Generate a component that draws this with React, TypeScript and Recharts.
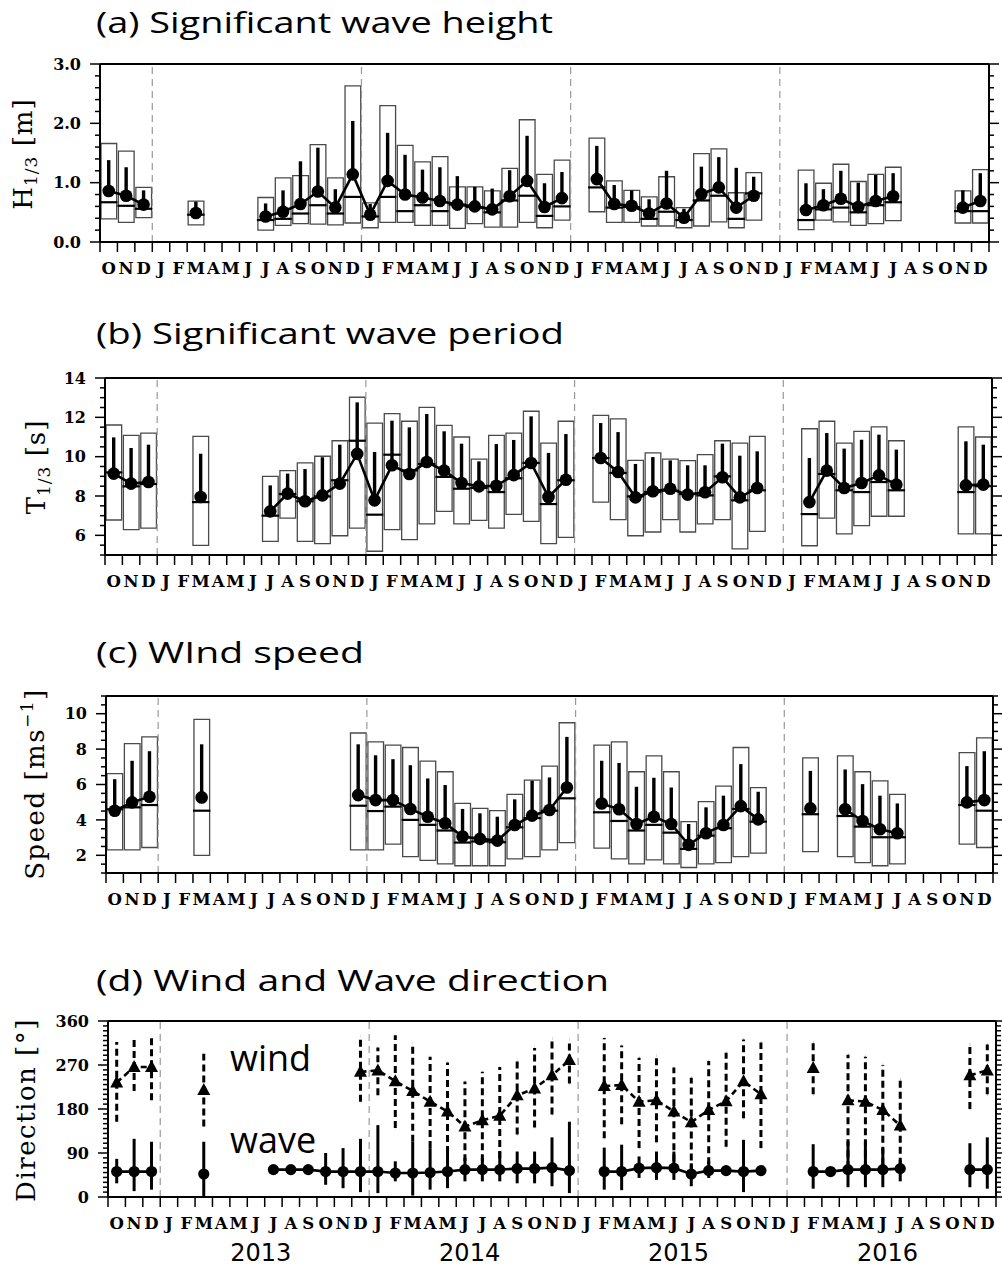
import React from "react";
import { ComposedChart, Bar, Line, XAxis, YAxis, ReferenceLine, ErrorBar, Rectangle } from "recharts";

const _ = null;

// month letters, Oct 2012 .. Dec 2016
const MONTHS = [
  "O", "N", "D",
  "J", "F", "M", "A", "M", "J", "J", "A", "S", "O", "N", "D",
  "J", "F", "M", "A", "M", "J", "J", "A", "S", "O", "N", "D",
  "J", "F", "M", "A", "M", "J", "J", "A", "S", "O", "N", "D",
  "J", "F", "M", "A", "M", "J", "J", "A", "S", "O", "N", "D",
];
const YEARS = ["2013", "2014", "2015", "2016"];
const YEAR_MID = [9, 21, 33, 45];
const YEAR_EDGES = [3, 15, 27, 39];

// (a) significant wave height [m]: box top/bottom, median, mean, mean+std
const HS_HI = [1.66, 1.53, 0.92, _, _, 0.69, _, _, _, 0.75, 1.08, 1.12, 1.64, 1.08, 2.63, 0.66, 2.30, 1.63, 1.35, 1.44, 0.93, 0.93, 0.86, 1.24, 2.06, 1.14, 1.38, _, 1.75, 1.03, 0.87, 0.76, 1.10, 0.58, 1.49, 1.57, 0.83, 1.17, _, _, 1.21, 0.99, 1.31, 1.02, 1.14, 1.26, _, _, _, 0.86, 1.22];
const HS_LO = [0.39, 0.33, 0.41, _, _, 0.29, _, _, _, 0.20, 0.28, 0.31, 0.30, 0.29, 0.32, 0.24, 0.33, 0.33, 0.28, 0.28, 0.23, 0.31, 0.25, 0.25, 0.33, 0.24, 0.37, _, 0.51, 0.33, 0.33, 0.27, 0.27, 0.24, 0.27, 0.34, 0.24, 0.37, _, _, 0.21, 0.37, 0.34, 0.28, 0.31, 0.36, _, _, _, 0.32, 0.32];
const HS_MED = [0.67, 0.61, 0.56, _, _, 0.46, _, _, _, 0.37, 0.39, 0.48, 0.62, 0.48, 0.76, 0.43, 0.76, 0.52, 0.62, 0.52, 0.63, 0.59, 0.50, 0.70, 0.78, 0.44, 0.60, _, 0.92, 0.58, 0.59, 0.39, 0.51, 0.37, 0.70, 0.78, 0.39, 0.82, _, _, 0.37, 0.55, 0.58, 0.50, 0.62, 0.67, _, _, _, 0.52, 0.52];
const HS_MEAN = [0.86, 0.78, 0.63, _, _, 0.49, _, _, _, 0.43, 0.51, 0.64, 0.85, 0.58, 1.14, 0.46, 1.03, 0.80, 0.75, 0.69, 0.63, 0.60, 0.55, 0.77, 1.03, 0.59, 0.74, _, 1.06, 0.64, 0.61, 0.48, 0.65, 0.41, 0.81, 0.92, 0.58, 0.78, _, _, 0.54, 0.62, 0.73, 0.59, 0.69, 0.77, _, _, _, 0.58, 0.69];
const HS_UP = [1.38, 1.26, 0.87, _, _, 0.68, _, _, _, 0.65, 0.87, 1.36, 1.59, 0.89, 2.04, 0.64, 1.84, 1.47, 1.22, 1.26, 1.11, 0.93, 0.90, 1.21, 1.79, 0.99, 1.18, _, 1.62, 0.96, 0.87, 0.72, 1.20, 0.56, 1.27, 1.43, 1.25, 1.10, _, _, 0.99, 0.89, 1.20, 1.00, 1.13, 1.16, _, _, _, 0.87, 1.16];

// (b) significant wave period [s]
const TP_HI = [11.61, 11.08, 11.2, _, _, 11.03, _, _, _, 9.0, 9.29, 9.68, 10.02, 10.81, 13.02, 11.71, 12.19, 11.8, 12.51, 11.59, 11.0, 9.88, 11.08, 11.2, 12.31, 10.69, 11.8, _, 12.1, 11.92, 9.81, 10.19, 9.88, 9.80, 10.10, 10.81, 10.69, 11.03, _, _, 11.42, 11.8, 10.69, 11.29, 11.51, 10.81, _, _, _, 11.51, 11.0];
const TP_LO = [6.78, 6.29, 6.37, _, _, 5.49, _, _, _, 5.69, 6.88, 5.69, 5.58, 5.98, 6.37, 5.19, 6.29, 5.78, 6.58, 7.22, 6.58, 6.76, 6.37, 7.07, 6.71, 5.58, 5.9, _, 7.69, 6.80, 5.98, 6.17, 6.80, 6.17, 6.58, 6.80, 5.31, 6.20, _, _, 5.47, 6.88, 6.07, 6.49, 6.97, 6.97, _, _, _, 6.07, 6.07];
const TP_MED = [9.20, 8.49, 8.61, _, _, 7.69, _, _, _, 7.0, 8.10, 7.73, 7.98, 8.80, 10.81, 7.05, 10.10, 9.3, 9.63, 8.97, 8.37, 8.41, 8.2, 8.9, 9.68, 7.59, 8.80, _, 9.93, 9.17, 7.98, 8.20, 8.27, 8.10, 8.03, 9.0, 7.78, 8.29, _, _, 7.08, 9.12, 8.29, 8.20, 8.71, 8.29, _, _, _, 8.20, 8.5];
const TP_MEAN = [9.14, 8.63, 8.71, _, _, 7.95, _, _, _, 7.22, 8.12, 7.73, 8.03, 8.63, 10.14, 7.78, 9.56, 9.12, 9.73, 9.29, 8.66, 8.49, 8.52, 9.06, 9.68, 7.95, 8.83, _, 9.93, 9.22, 7.93, 8.24, 8.37, 8.07, 8.19, 8.95, 7.93, 8.41, _, _, 7.69, 9.29, 8.41, 8.66, 9.05, 8.58, _, _, _, 8.54, 8.58];
const TP_UP = [10.98, 10.44, 10.61, _, _, 10.15, _, _, _, 8.54, 9.14, 9.37, 9.97, 10.61, 12.76, 10.24, 11.83, 11.49, 12.17, 11.29, 10.66, 9.76, 10.64, 10.85, 12.05, 10.19, 11.15, _, 11.71, 11.25, 9.63, 9.98, 9.81, 9.56, 9.56, 10.66, 10.05, 10.27, _, _, 9.93, 11.2, 10.41, 10.86, 11.12, 10.36, _, _, _, 10.78, 10.61];

// (c) wind speed [m/s]
const WS_HI = [6.62, 8.31, 8.69, _, _, 9.68, _, _, _, _, _, _, _, _, 8.91, 8.41, 8.22, 8.09, 7.32, 6.72, 4.93, 4.65, 4.52, 5.44, 6.25, 7.04, 9.49, _, 8.22, 8.41, 6.72, 7.62, 6.72, 3.90, 5.03, 5.91, 8.09, 5.82, _, _, 7.50, _, 7.62, 6.72, 6.21, 5.44, _, _, _, 7.80, 8.63];
const WS_LO = [2.31, 2.31, 2.44, _, _, 2.0, _, _, _, _, _, _, _, _, 2.31, 2.31, 2.63, 1.93, 1.71, 1.52, 1.41, 1.41, 1.41, 1.80, 1.93, 2.31, 2.72, _, 2.40, 1.80, 1.52, 1.74, 1.52, 1.31, 1.52, 1.59, 1.93, 2.12, _, _, 2.21, _, 1.93, 1.59, 1.41, 1.52, _, _, _, 2.63, 2.44];
const WS_MED = [4.6, 4.71, 4.84, _, _, 4.52, _, _, _, _, _, _, _, _, 4.80, 4.50, 4.75, 4.0, 3.72, 3.40, 2.72, 2.78, 2.74, 3.58, 4.1, 4.52, 5.22, _, 4.43, 3.94, 3.40, 3.72, 3.28, 2.36, 3.11, 3.53, 4.62, 3.90, _, _, 4.32, _, 4.22, 3.62, 3.02, 3.02, _, _, _, 4.84, 4.52];
const WS_MEAN = [4.52, 4.99, 5.31, _, _, 5.27, _, _, _, _, _, _, _, _, 5.40, 5.12, 5.12, 4.62, 4.18, 3.81, 3.06, 2.93, 2.83, 3.71, 4.24, 4.56, 5.83, _, 4.93, 4.60, 3.77, 4.18, 3.77, 2.59, 3.25, 3.71, 4.78, 4.03, _, _, 4.65, _, 4.60, 3.94, 3.47, 3.25, _, _, _, 4.99, 5.12];
const WS_UP = [6.30, 7.34, 7.88, _, _, 8.27, _, _, _, _, _, _, _, _, 8.27, 7.65, 7.43, 7.09, 6.34, 5.97, 4.62, 4.37, 4.18, 5.16, 6.21, 6.40, 8.69, _, 7.34, 7.22, 5.87, 6.38, 5.83, 3.77, 4.71, 5.37, 7.15, 5.59, _, _, 6.77, _, 6.85, 6.02, 5.37, 4.93, _, _, _, 7.04, 7.88];

// (d) wind and wave direction [deg]: mean, lower, upper
const WIND = [234, 266, 266, _, _, 219, _, _, _, _, _, _, _, _, 256, 259, 237, 217, 195, 175, 144, 157, 166, 208, 222, 249, 280, _, 227, 229, 195, 198, 175, 153, 178, 196, 237, 210, _, _, 264, _, 198, 195, 178, 146, _, _, _, 249, 259];
const WIND_LO = [154, 217, 198, _, _, 144, _, _, _, _, _, _, _, _, 195, 208, 141, 113, 100, 90, 73, 73, 80, 128, 142, 169, 232, _, 120, 149, 100, 112, 73, 52, 67, 103, 161, 100, _, _, 210, _, 59, 59, 66, 66, _, _, _, 180, 210];
const WIND_HI = [317, 322, 332, _, _, 293, _, _, _, _, _, _, _, _, 329, 306, 331, 314, 287, 275, 236, 256, 266, 280, 305, 324, 322, _, 325, 310, 285, 289, 265, 244, 278, 295, 322, 316, _, _, 315, _, 291, 287, 270, 241, _, _, _, 312, 312];
const WAVE = [52, 52, 52, _, _, 47, _, _, _, 56, 56, 56, 52, 52, 52, 52, 49, 49, 50, 52, 56, 56, 56, 58, 58, 60, 54, _, 52, 52, 59, 60, 59, 47, 54, 54, 52, 54, _, _, 52, 52, 56, 56, 56, 58, _, _, _, 56, 56];
const WAVE_LO = [28, 12, 15, _, _, 1, _, _, _, 50, 50, 50, 25, 18, 10, 8, 32, 3, 15, 18, 32, 32, 32, 28, 28, 22, 8, _, 15, 14, 39, 35, 35, 22, 39, 48, 10, 48, _, _, 17, 46, 20, 20, 20, 32, _, _, _, 20, 17];
const WAVE_HI = [78, 119, 113, _, _, 113, _, _, _, 62, 62, 62, 90, 100, 119, 147, 73, 113, 100, 90, 80, 80, 93, 93, 93, 122, 154, _, 101, 107, 83, 93, 93, 69, 73, 60, 117, 60, _, _, 108, 58, 113, 113, 100, 76, _, _, _, 110, 122];

// y tick labels per panel
const A_MAJOR = [0, 1, 2, 3];
const B_MAJOR = [6, 8, 10, 12, 14];
const C_MAJOR = [2, 4, 6, 8, 10];
const D_MAJOR = [0, 90, 180, 270, 360];

const TITLES = [
  { text: "(a) Significant wave height", y: 33, w: 457 },
  { text: "(b) Significant wave period", y: 344, w: 468 },
  { text: "(c) WInd speed", y: 663, w: 268 },
  { text: "(d) Wind and Wave direction", y: 991, w: 513 },
];

// plot frames in page pixels
const FRAME_A = { L: 100, R: 989, T: 64, B: 242 };
const FRAME_B = { L: 105, R: 992, T: 378, B: 555 };
const FRAME_C = { L: 106, R: 993, T: 696, B: 873 };
const FRAME_D = { L: 108, R: 996, T: 1021, B: 1197 };
const TOP_PAD = 15;
const BOTTOM_PAD = 70;
const RIGHT_W = 14;

const EDGE_TICKS = Array.from({ length: 52 }, (v, i) => i);
const BOTTOM_TICKS = Array.from({ length: 103 }, (v, i) => i / 2);
const stepTicks = (lo: number, hi: number, step: number) => {
  const out: number[] = [];
  for (let k = 0; lo + k * step <= hi + 1e-9; k++) out.push(Math.round((lo + k * step) * 1000) / 1000);
  return out;
};

const AXIS_LINE = { stroke: "#000", strokeWidth: 2 };
const TICK_LINE = { stroke: "#000", strokeWidth: 1.5 };
const SERIF = "DejaVu Serif";

const boxRows = (hi, lo, med, mean, up) =>
  MONTHS.map((m, i) => ({
    cat: i,
    x: i + 0.5,
    box: hi[i] == null ? null : [lo[i], hi[i]],
    med: med[i],
    mean: mean[i],
    err: mean[i] == null ? null : [0, up[i] - mean[i]],
  }));

const dirRows = MONTHS.map((m, i) => ({
  cat: i,
  x: i + 0.5,
  wind: WIND[i],
  windErr: WIND[i] == null ? null : [WIND[i] - WIND_LO[i], WIND_HI[i] - WIND[i]],
  wave: WAVE[i],
  waveErr: WAVE[i] == null ? null : [WAVE[i] - WAVE_LO[i], WAVE_HI[i] - WAVE[i]],
}));

const bad = (p) => p.value == null || p.cy == null || Number.isNaN(p.cy);

function monthTick(p, showYears) {
  const v = p.payload.value;
  if (Number.isInteger(v)) {
    const yi = showYears ? YEAR_MID.indexOf(v) : -1;
    return (
      <g>
        <line x1={p.x} x2={p.x} y1={p.y} y2={p.y + 10} stroke="#000" strokeWidth={1.5} />
        {yi >= 0 && (
          <text x={p.x - 4} y={p.y + 64} textAnchor="middle" fontFamily="DejaVu Sans" fontSize={24} fill="#000">
            {YEARS[yi]}
          </text>
        )}
      </g>
    );
  }
  return (
    <text x={p.x} y={p.y + 32} textAnchor="middle" fontFamily={SERIF} fontWeight="bold" fontSize={16.5} fill="#000">
      {MONTHS[Math.floor(v)]}
    </text>
  );
}

function yTick(p, majors, fmt, side) {
  const v = p.payload.value;
  const major = majors.some((m) => Math.abs(m - v) < 1e-6);
  const len = major ? 10 : 5;
  return (
    <g>
      <line x1={p.x} x2={p.x + side * len} y1={p.y} y2={p.y} stroke="#000" strokeWidth={1.5} />
      {major && side < 0 && (
        <text x={p.x - 19} y={p.y} dy="0.36em" textAnchor="end" fontFamily={SERIF} fontWeight="bold" fontSize={16} fill="#000">
          {fmt(v)}
        </text>
      )}
    </g>
  );
}

function frameAxes(f, domain, yTicks, majors, fmt, showYears) {
  return [
    <XAxis
      key="num" xAxisId="num" dataKey="x" type="number" domain={[0, 51]} allowDataOverflow
      ticks={BOTTOM_TICKS} interval={0} height={BOTTOM_PAD} tickLine={false} tickSize={0} tickMargin={0}
      axisLine={AXIS_LINE} tick={(p) => monthTick(p, showYears)}
    />,
    <XAxis key="cat" xAxisId="cat" dataKey="cat" type="category" hide height={0} />,
    <XAxis
      key="top" xAxisId="top" orientation="top" dataKey="x" type="number" domain={[0, 51]} allowDataOverflow
      ticks={EDGE_TICKS} interval={0} height={12} tickSize={10} tick={false} tickLine={TICK_LINE} axisLine={AXIS_LINE}
    />,
    <YAxis
      key="l" yAxisId="l" type="number" domain={domain} allowDataOverflow ticks={yTicks} interval={0}
      width={f.L} tickLine={false} tickSize={0} tickMargin={0} axisLine={AXIS_LINE}
      tick={(p) => yTick(p, majors, fmt, -1)}
    />,
    <YAxis
      key="r" yAxisId="r" orientation="right" type="number" domain={domain} allowDataOverflow ticks={yTicks} interval={0}
      width={RIGHT_W} tickLine={false} tickSize={0} tickMargin={0} axisLine={AXIS_LINE}
      tick={(p) => yTick(p, majors, fmt, 1)}
    />,
    ...YEAR_EDGES.map((e) => (
      <ReferenceLine key={"yr" + e} xAxisId="num" yAxisId="l" x={e} stroke="#999" strokeDasharray="7 5" strokeWidth={1.2} />
    )),
  ];
}

function chartBox(f) {
  return {
    style: { position: "absolute" as const, left: 0, top: f.T - TOP_PAD },
    height: TOP_PAD + (f.B - f.T) + BOTTOM_PAD,
    margin: { top: TOP_PAD - 12, right: 1002 - f.R - RIGHT_W, bottom: 0, left: 0 },
  };
}

function BoxPanel({ f, rows, domain, yTicks, majors, fmt }) {
  const bw = (f.R - f.L) / 51;
  const c = chartBox(f);
  const medDot = (p) =>
    bad(p) ? <g key={"m" + p.index} /> : (
      <line key={"m" + p.index} x1={p.cx - bw / 2} x2={p.cx + bw / 2} y1={p.cy} y2={p.cy} stroke="#000" strokeWidth={2.2} />
    );
  const meanDot = (p) =>
    bad(p) ? <g key={"d" + p.index} /> : <circle key={"d" + p.index} cx={p.cx} cy={p.cy} r={6.3} fill="#000" />;
  return (
    <div style={c.style}>
      <ComposedChart width={1002} height={c.height} data={rows} margin={c.margin} barCategoryGap={0} barGap={0}>
        {frameAxes(f, domain, yTicks, majors, fmt, false)}
        <Bar
          xAxisId="cat" yAxisId="l" dataKey="box" barSize={bw} fill="none" stroke="#4a4a4a" strokeWidth={1.3}
          isAnimationActive={false}
          shape={(p) => (p.payload && p.payload.box ? <Rectangle {...p} fill="none" /> : <g />)}
        />
        <Line xAxisId="num" yAxisId="l" dataKey="med" stroke="none" dot={medDot} activeDot={false} isAnimationActive={false} />
        <Line xAxisId="num" yAxisId="l" dataKey="mean" stroke="#000" strokeWidth={2.6} dot={meanDot} activeDot={false} isAnimationActive={false}>
          <ErrorBar dataKey="err" direction="y" width={0} stroke="#000" strokeWidth={3.4} />
        </Line>
      </ComposedChart>
    </div>
  );
}

function DirectionPanel() {
  const f = FRAME_D;
  const c = chartBox(f);
  const waveDot = (p) =>
    bad(p) ? <g key={"w" + p.index} /> : <circle key={"w" + p.index} cx={p.cx} cy={p.cy} r={5.6} fill="#000" />;
  const windDot = (p) =>
    bad(p) ? <g key={"t" + p.index} /> : (
      <polygon key={"t" + p.index} points={`${p.cx},${p.cy - 7} ${p.cx + 6.5},${p.cy + 5} ${p.cx - 6.5},${p.cy + 5}`} fill="#000" />
    );
  return (
    <div style={c.style}>
      <ComposedChart width={1002} height={c.height} data={dirRows} margin={c.margin}>
        {frameAxes(f, [0, 360], stepTicks(0, 360, 10), D_MAJOR, (v) => String(v), true)}
        <Line xAxisId="num" yAxisId="l" dataKey="wave" stroke="#000" strokeWidth={2.6} dot={waveDot} activeDot={false} isAnimationActive={false}>
          <ErrorBar dataKey="waveErr" direction="y" width={0} stroke="#000" strokeWidth={3} />
        </Line>
        <Line xAxisId="num" yAxisId="l" dataKey="wind" stroke="#000" strokeWidth={2.6} strokeDasharray="6 4" dot={windDot} activeDot={false} isAnimationActive={false}>
          <ErrorBar dataKey="windErr" direction="y" width={0} stroke="#000" strokeWidth={3} strokeDasharray="7 4" />
        </Line>
      </ComposedChart>
    </div>
  );
}

export default function App() {
  return (
    <div style={{ position: "absolute", left: 0, top: 0, width: 1002, height: 1267, background: "#fff", overflow: "hidden" }}>
      <BoxPanel f={FRAME_A} rows={boxRows(HS_HI, HS_LO, HS_MED, HS_MEAN, HS_UP)} domain={[0, 3]} yTicks={stepTicks(0, 3, 0.2)} majors={A_MAJOR} fmt={(v) => v.toFixed(1)} />
      <BoxPanel f={FRAME_B} rows={boxRows(TP_HI, TP_LO, TP_MED, TP_MEAN, TP_UP)} domain={[5, 14]} yTicks={stepTicks(5, 14, 0.5)} majors={B_MAJOR} fmt={(v) => String(v)} />
      <BoxPanel f={FRAME_C} rows={boxRows(WS_HI, WS_LO, WS_MED, WS_MEAN, WS_UP)} domain={[1, 11]} yTicks={stepTicks(1, 11, 0.5)} majors={C_MAJOR} fmt={(v) => String(v)} />
      <DirectionPanel />
      <svg width={1002} height={1267} style={{ position: "absolute", left: 0, top: 0, pointerEvents: "none" }}>
        {TITLES.map((t) => (
          <text key={t.text} x={96} y={t.y} fontFamily="Open Sans" fontSize={30} textLength={t.w} lengthAdjust="spacingAndGlyphs" fill="#000">
            {t.text}
          </text>
        ))}
        <text transform="rotate(-90 32 154)" x={32} y={154} textAnchor="middle" fontFamily={SERIF} fontSize={26} letterSpacing={1}>
          H<tspan fontSize={17} dy={5}>1/3</tspan><tspan dy={-5}> [m]</tspan>
        </text>
        <text transform="rotate(-90 45 467)" x={45} y={467} textAnchor="middle" fontFamily={SERIF} fontSize={26} letterSpacing={1}>
          T<tspan fontSize={17} dy={5}>1/3</tspan><tspan dy={-5}> [s]</tspan>
        </text>
        <text transform="rotate(-90 44 784)" x={44} y={784} textAnchor="middle" fontFamily={SERIF} fontSize={26} letterSpacing={1.5}>
          Speed [ms<tspan fontSize={17} dy={-11}>−1</tspan><tspan dy={11}>]</tspan>
        </text>
        <text transform="rotate(-90 35 1110)" x={35} y={1110} textAnchor="middle" fontFamily={SERIF} fontSize={26} letterSpacing={1.5}>
          Direction [°]
        </text>
        <text x={230} y={1071} fontFamily="Open Sans" fontSize={36} fill="#000">wind</text>
        <text x={230} y={1153} fontFamily="Open Sans" fontSize={36} fill="#000">wave</text>
      </svg>
    </div>
  );
}
